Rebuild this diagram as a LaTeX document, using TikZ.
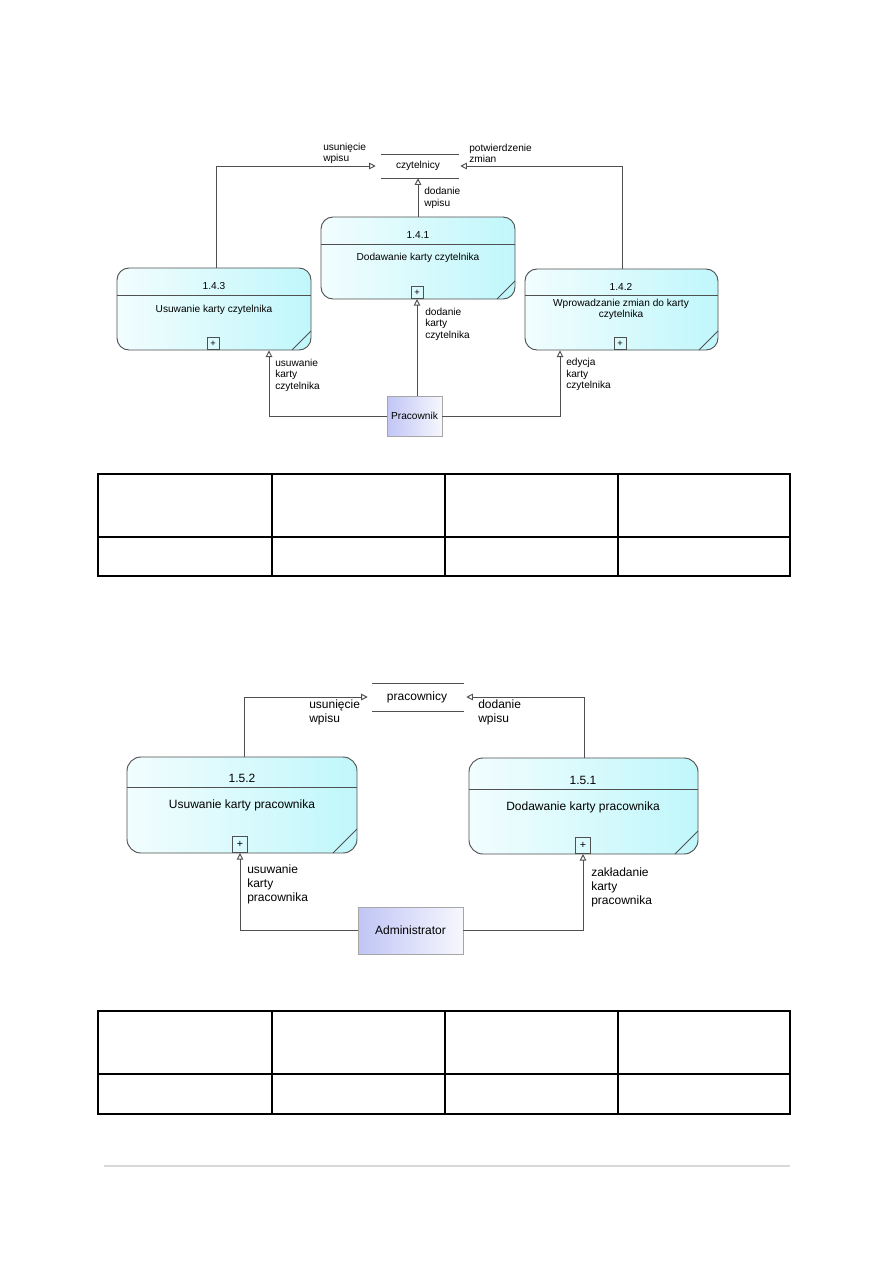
\documentclass[tikz,border=0pt]{standalone}
\usepackage{fontspec}
\setmainfont{Liberation Sans}
\usetikzlibrary{arrows.meta,fit}
\definecolor{boxL}{RGB}{242,253,254}
\definecolor{boxR}{RGB}{192,247,251}
\definecolor{actL}{RGB}{192,197,245}
\definecolor{actR}{RGB}{247,247,253}
\definecolor{edge}{RGB}{80,80,80}
\begin{document}
\begin{tikzpicture}[x=0.75pt,y=-0.75pt,
  proc/.style={draw=edge, line width=0.7pt, rounded corners=9pt, left color=boxL, right color=boxR, inner sep=0pt},
  procb/.style={proc, rounded corners=10.5pt},
  actor/.style={draw=gray!70, line width=0.6pt, left color=actL, right color=actR, inner sep=0pt},
  store/.style={inner sep=0pt},
  plusbox/.style={draw=edge, line width=0.7pt, minimum size=9pt, inner sep=0pt, anchor=south, font=\fontsize{7}{8}\selectfont},
  plusboxb/.style={plusbox, minimum width=11pt, minimum height=12pt, font=\fontsize{8}{9}\selectfont},
  conn/.style={draw=edge, line width=0.7pt},
  arr/.style={conn, -{Triangle[open,length=5pt,width=5pt]}},
  lbl/.style={anchor=west, inner sep=0pt, align=left, font=\fontsize{7.6}{8.6}\selectfont},
  lblb/.style={anchor=west, inner sep=0pt, align=left, font=\fontsize{9}{10.5}\selectfont},
  txt/.style={inner sep=0pt, align=center, font=\fontsize{7.6}{8.6}\selectfont},
  txtb/.style={inner sep=0pt, align=center, font=\fontsize{9}{10.5}\selectfont},
  tbl/.style={line width=0.95pt, draw=black}
]
\fill[white] (0,0) rectangle (893,1263);
\useasboundingbox (0,0) rectangle (893,1263);

% ---------------- top diagram ----------------
\node[store, fit={(376,154)(460,178)}] (czyt) {};
\draw[conn] (381,154) -- (459,154);
\draw[conn] (381,178) -- (459,178);
\node[txt] at (czyt.center) {czytelnicy};

\node[proc, fit={(321,217)(515,299)}] (p141) {};
\draw[conn] (321,244) -- (515,244);
\draw[conn] (497,299) -- (515,281);
\node[txt] at (418,235) {1.4.1};
\node[txt] at (418,258) {Dodawanie karty czytelnika};
\node[plusbox] (plus141) at (417,299) {+};

\node[proc, fit={(117,268)(311,350)}] (p143) {};
\draw[conn] (117,295) -- (311,295);
\draw[conn] (292,350) -- (311,331);
\node[txt] at (214,286) {1.4.3};
\node[txt] at (214,310) {Usuwanie karty czytelnika};
\node[plusbox] (plus143) at (213,350) {+};

\node[proc, fit={(525,269)(718,350)}] (p142) {};
\draw[conn] (525,295) -- (718,295);
\draw[conn] (699,350) -- (718,331);
\node[txt] at (621,287) {1.4.2};
\node[txt] at (621,309.5) {Wprowadzanie zmian do karty\\czytelnika};
\node[plusbox] (plus142) at (620,350) {+};

\node[actor, fit={(387,396)(442,436)}] (prac) {};
\node[txt] at (prac.center) {Pracownik};

\coordinate (xa) at (216,0);
\coordinate (xb) at (622,0);
\coordinate (xc) at (269,0);
\coordinate (xd) at (560,0);
\draw[arr] (p143.north -| xa) |- (czyt.west);
\draw[arr] (p142.north -| xb) |- (czyt.east);
\draw[arr] (p141.north) -- (czyt.south);
\draw[arr] (prac.north -| plus141.south) -- (plus141.south);
\draw[arr] (prac.west) -| (xc |- p143.south);
\draw[arr] (prac.east) -| (xd |- p142.south);

\node[lbl] at (323,153.5) {usunięcie\\wpisu};
\node[lbl] at (469,153.5) {potwierdzenie\\zmian};
\node[lbl] at (424,198) {dodanie\\wpisu};
\node[lbl] at (425,324) {dodanie\\karty\\czytelnika};
\node[lbl] at (275,375) {usuwanie\\karty\\czytelnika};
\node[lbl] at (566,374.5) {edycja\\karty\\czytelnika};

% table 1
\draw[tbl] (98,474) rectangle (790,576);
\draw[tbl] (98,537) -- (790,537);
\draw[tbl] (272,474) -- (272,576);
\draw[tbl] (445,474) -- (445,576);
\draw[tbl] (618,474) -- (618,576);

% ---------------- bottom diagram ----------------
\node[store, fit={(368,683)(466,711)}] (prc) {};
\draw[conn] (372,683) -- (464,683);
\draw[conn] (372,711) -- (464,711);
\node[txtb] at (prc.center) {pracownicy};

\node[procb, fit={(127,757)(357,853)}] (p152) {};
\draw[conn] (127,787) -- (357,787);
\draw[conn] (333,853) -- (357,829);
\node[txtb] at (242,778) {1.5.2};
\node[txtb] at (242,805) {Usuwanie karty pracownika};
\node[plusboxb] (plus152) at (240,853) {+};

\node[procb, fit={(469,758)(698,854)}] (p151) {};
\draw[conn] (469,789) -- (698,789);
\draw[conn] (675,854) -- (698,831);
\node[txtb] at (583,780) {1.5.1};
\node[txtb] at (583,807) {Dodawanie karty pracownika};
\node[plusboxb] (plus151) at (583,854) {+};

\node[actor, fit={(358,907)(463,954)}] (adm) {};
\node[txtb] at (adm.center) {Administrator};

\coordinate (xe) at (244,0);
\coordinate (xf) at (584,0);
\draw[arr] (p152.north -| xe) |- (prc.west);
\draw[arr] (p151.north -| xf) |- (prc.east);
\draw[arr] (adm.west) -| (plus152.south);
\draw[arr] (adm.east) -| (plus151.south);

\node[lblb] at (309,712) {usunięcie\\wpisu};
\node[lblb] at (478,712) {dodanie\\wpisu};
\node[lblb] at (247,884) {usuwanie\\karty\\pracownika};
\node[lblb] at (591,887) {zakładanie\\karty\\pracownika};

% table 2
\draw[tbl] (98,1011) rectangle (790,1114);
\draw[tbl] (98,1074) -- (790,1074);
\draw[tbl] (272,1011) -- (272,1114);
\draw[tbl] (445,1011) -- (445,1114);
\draw[tbl] (618,1011) -- (618,1114);

% footer rule
\draw[gray!30, line width=0.9pt] (104,1166) -- (790,1166);
\end{tikzpicture}
\end{document}
